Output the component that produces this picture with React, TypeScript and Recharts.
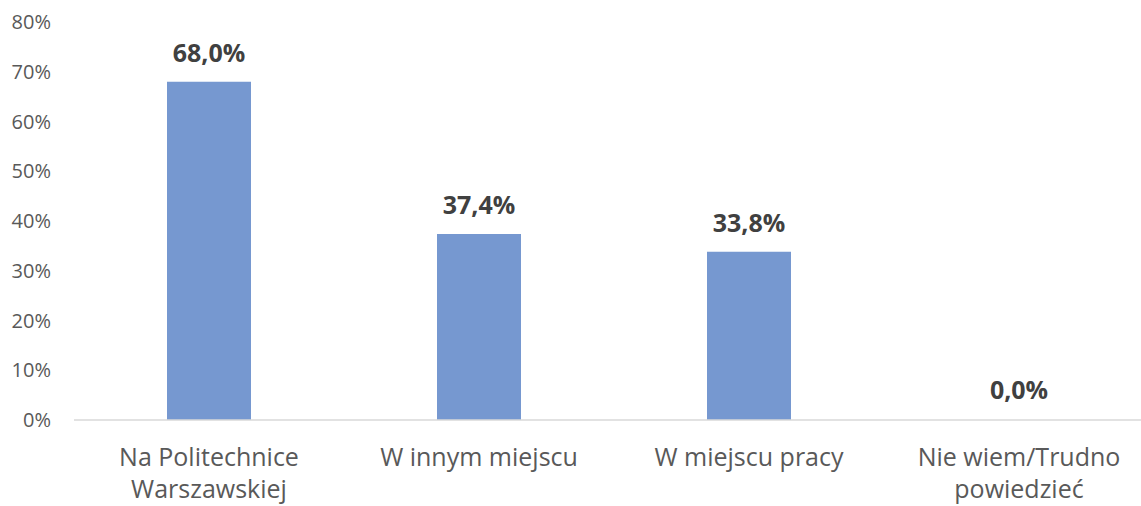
import React from "react";
import { BarChart, Bar, XAxis, YAxis, LabelList, Cell } from "recharts";

// Values (percent)
const categories = [
  "Na Politechnice Warszawskiej",
  "W innym miejscu",
  "W miejscu pracy",
  "Nie wiem/Trudno powiedzieć",
];
const shares = [68.0, 37.4, 33.8, 0.0];
const yTicks = [0, 10, 20, 30, 40, 50, 60, 70, 80];

const data = categories.map((name, i) => ({ name, value: shares[i] }));

const FONT = "'Open Sans', 'DejaVu Sans', sans-serif";
const BAR_COLOR = "#7698d0";
const TEXT_GREY = "#595959";

const fmtLabel = (v: number) => `${v.toFixed(1).replace(".", ",")}%`;

// greedy word wrap, about 16 characters per line
const wrap = (s: string, max = 16) => {
  const lines: string[] = [];
  let cur = "";
  s.split(" ").forEach((w) => {
    if (cur && (cur + " " + w).length > max) {
      lines.push(cur);
      cur = w;
    } else {
      cur = cur ? cur + " " + w : w;
    }
  });
  if (cur) lines.push(cur);
  return lines;
};

const CategoryTick = (props: any) => {
  const { x, y, payload } = props;
  return (
    <text
      x={x}
      y={y + 38}
      textAnchor="middle"
      fontSize={25}
      fontFamily={FONT}
      fill={TEXT_GREY}
    >
      {wrap(payload.value).map((line, i) => (
        <tspan key={i} x={x} dy={i === 0 ? 0 : 32}>
          {line}
        </tspan>
      ))}
    </text>
  );
};

export default function App() {
  return (
    <div
      style={{
        position: "absolute",
        left: 0,
        top: 0,
        width: 1141,
        height: 506,
        overflow: "hidden",
        background: "#fff",
      }}
    >
      <BarChart
        width={1160}
        height={506}
        data={data}
        margin={{ top: 22, right: 6, left: 0, bottom: 6 }}
      >
        <XAxis
          dataKey="name"
          height={80}
          tickLine={false}
          axisLine={{ stroke: "#d9d9d9", strokeWidth: 1.5 }}
          tick={<CategoryTick />}
          interval={0}
        />
        <YAxis
          width={74}
          domain={[0, 80]}
          ticks={yTicks}
          tickFormatter={(v: number) => `${v}%`}
          axisLine={false}
          tickLine={false}
          tickMargin={17}
          tick={{ fill: TEXT_GREY, fontSize: 20, fontFamily: FONT }}
        />
        <Bar
          dataKey="value"
          fill={BAR_COLOR}
          barSize={84}
          minPointSize={1}
          isAnimationActive={false}
        >
          {data.map((d, i) => (
            <Cell key={i} fill={BAR_COLOR} fillOpacity={d.value === 0 ? 0 : 1} />
          ))}
          <LabelList
            dataKey="value"
            position="top"
            offset={20}
            formatter={(v: any) => fmtLabel(Number(v))}
            style={{ fill: "#404040", fontSize: 25, fontWeight: 700, fontFamily: FONT }}
          />
        </Bar>
      </BarChart>
    </div>
  );
}
